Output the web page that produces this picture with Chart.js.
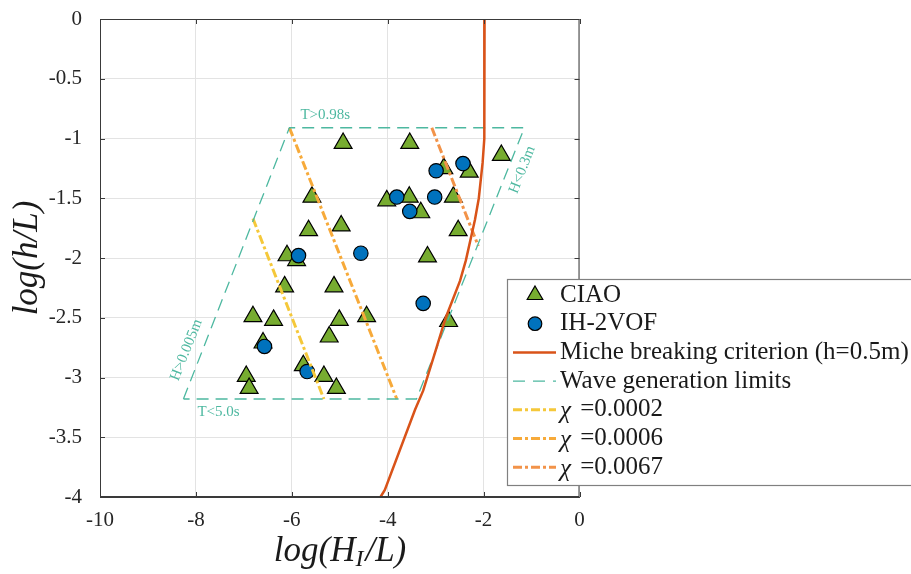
<!DOCTYPE html>
<html>
<head>
<meta charset="utf-8">
<script src="https://cdn.jsdelivr.net/npm/chart.js@4"></script>
<style>
  body { margin: 0; background: #fff; }
  canvas { display: block; }
</style>
</head>
<body>
<canvas id="myChart" width="911" height="574"></canvas>
<script>
// CIAO runs (triangles)
const ciaoX = [-4.93, -3.54, -1.63, -2.83, -2.30, -5.58, -4.02, -3.55, -2.63, -3.31,
               -4.97, -5.65, -2.53, -6.10, -5.90, -3.17, -6.15, -5.12, -6.81, -6.38,
               -5.01, -4.44, -2.73, -5.22, -6.60, -6.95, -6.89, -5.76, -5.33, -5.07];
const ciaoY = [-1.04, -1.04, -1.14, -1.25, -1.28, -1.49, -1.52, -1.49, -1.49, -1.62,
               -1.73, -1.77, -1.77, -1.98, -2.02, -1.99, -2.24, -2.24, -2.49, -2.52,
               -2.52, -2.49, -2.53, -2.66, -2.71, -2.99, -3.09, -2.90, -2.99, -3.09];

// IH-2VOF runs (circles)
const ihX = [-2.99, -2.43, -3.81, -3.02, -3.54, -5.86, -4.56, -3.26, -6.57, -5.68];
const ihY = [-1.27, -1.21, -1.49, -1.49, -1.61, -1.98, -1.96, -2.38, -2.74, -2.95];

// Miche breaking criterion, h = 0.5 m
const micheX = [-1.98, -1.98, -1.99, -2.02, -2.10, -2.18, -2.37, -2.49, -2.79, -3.02, -3.26, -3.43, -4.06, -4.15];
const micheY = [0, -0.5, -1.0, -1.2, -1.5, -1.68, -2.02, -2.19, -2.5, -2.8, -3.11, -3.27, -3.94, -4.0];

// wave generation limits (closed outline)
const limitsX = [-8.26, -6.05, -1.15, -3.40, -8.26];
const limitsY = [-3.18, -0.91, -0.91, -3.18, -3.18];

// constant chi lines
const chi1X = [-6.81, -5.33], chi1Y = [-1.67, -3.18];
const chi2X = [-6.05, -3.81], chi2Y = [-0.91, -3.18];
const chi3X = [-3.08, -2.11], chi3Y = [-0.91, -1.90];

const xTicks = [-10, -8, -6, -4, -2, 0];
const yTicks = [0, -0.5, -1, -1.5, -2, -2.5, -3, -3.5, -4];

const GREEN = '#77AC30', BLUE = '#0072BD', MICHE = '#D95319', TEAL = '#4DB8A0';
const CHI1 = '#F5C83A', CHI2 = '#F7AA3A', CHI3 = '#F29349';
const SERIF = '"Liberation Serif", "DejaVu Serif", serif';

const pts = (xs, ys) => xs.map((x, i) => ({ x: x, y: ys[i] }));

const lineSet = (data, color, width, dash) => ({
    data: data,
    showLine: true,
    borderColor: color,
    borderWidth: width,
    borderDash: dash,
    pointRadius: 0,
    fill: false,
    tension: 0,
    order: 1
});

// boxed axes, inward ticks, outline labels, legend, axis titles
const decorations = {
    id: 'decorations',
    afterDraw(chart) {
        const { ctx, chartArea: a, scales: { x, y } } = chart;
        ctx.save();

        // box and inward tick marks
        ctx.strokeStyle = '#3a3a3a';
        ctx.lineWidth = 1;
        ctx.strokeRect(a.left + 0.5, a.top + 0.5, a.right - a.left - 1, a.bottom - a.top - 1);
        ctx.beginPath();
        xTicks.forEach(v => {
            const px = Math.round(x.getPixelForValue(v)) + 0.5;
            ctx.moveTo(px, a.bottom); ctx.lineTo(px, a.bottom - 5);
            ctx.moveTo(px, a.top); ctx.lineTo(px, a.top + 5);
        });
        yTicks.forEach(v => {
            const py = Math.round(y.getPixelForValue(v)) + 0.5;
            ctx.moveTo(a.left, py); ctx.lineTo(a.left + 5, py);
            ctx.moveTo(a.right, py); ctx.lineTo(a.right - 5, py);
        });
        ctx.stroke();

        // labels on the generation limits
        const P = (i) => ({ x: x.getPixelForValue(limitsX[i]), y: y.getPixelForValue(limitsY[i]) });
        const bl = P(0), tl = P(1), tr = P(2);
        const ang = Math.atan2(tl.y - bl.y, tl.x - bl.x);
        ctx.fillStyle = TEAL;
        ctx.font = '15px ' + SERIF;
        ctx.textBaseline = 'middle';
        ctx.textAlign = 'left';
        ctx.fillText('T>0.98s', tl.x + 11, tl.y - 13);
        ctx.fillText('T<5.0s', bl.x + 14, bl.y + 13);
        ctx.textAlign = 'center';
        ctx.save();
        ctx.translate(bl.x + 3, bl.y - 49);
        ctx.rotate(ang);
        ctx.fillText('H>0.005m', 0, 0);
        ctx.restore();
        ctx.save();
        ctx.translate(tr.x - 2, tr.y + 42);
        ctx.rotate(ang);
        ctx.fillText('H<0.3m', 0, 0);
        ctx.restore();

        // legend
        const lx = 507, ly = 279, rowH = 28.7;
        ctx.fillStyle = '#fff';
        ctx.fillRect(lx, ly, 420, 206);
        ctx.strokeStyle = '#808080';
        ctx.lineWidth = 1.2;
        ctx.strokeRect(lx + 0.5, ly + 0.5, 420, 206);
        const rows = [
            { label: 'CIAO', kind: 'tri' },
            { label: 'IH-2VOF', kind: 'dot' },
            { label: 'Miche breaking criterion (h=0.5m)', kind: 'line', color: MICHE, width: 2.5, dash: [] },
            { label: 'Wave generation limits', kind: 'line', color: TEAL, width: 1.3, dash: [12, 8] },
            { label: '\u03C7 =0.0002', kind: 'line', color: CHI1, width: 3, dash: [9, 3, 3, 3] },
            { label: '\u03C7 =0.0006', kind: 'line', color: CHI2, width: 3, dash: [9, 3, 3, 3] },
            { label: '\u03C7 =0.0067', kind: 'line', color: CHI3, width: 3, dash: [9, 3, 3, 3] }
        ];
        const LF = '25px ' + SERIF;
        rows.forEach((r, i) => {
            const cy = ly + 16 + i * rowH;
            if (r.kind === 'tri') {
                const s = 9;
                ctx.beginPath();
                ctx.moveTo(535, cy - s);
                ctx.lineTo(535 + s * 0.866, cy + s * 0.5);
                ctx.lineTo(535 - s * 0.866, cy + s * 0.5);
                ctx.closePath();
                ctx.fillStyle = GREEN; ctx.fill();
                ctx.strokeStyle = '#000'; ctx.lineWidth = 1.2; ctx.setLineDash([]); ctx.stroke();
            } else if (r.kind === 'dot') {
                ctx.beginPath();
                ctx.arc(535, cy, 6.8, 0, Math.PI * 2);
                ctx.fillStyle = BLUE; ctx.fill();
                ctx.strokeStyle = '#000'; ctx.lineWidth = 1.2; ctx.setLineDash([]); ctx.stroke();
            } else {
                ctx.beginPath();
                ctx.moveTo(513, cy); ctx.lineTo(556, cy);
                ctx.strokeStyle = r.color; ctx.lineWidth = r.width; ctx.setLineDash(r.dash);
                ctx.stroke();
                ctx.setLineDash([]);
            }
            ctx.fillStyle = '#1a1a1a';
            ctx.font = LF;
            ctx.textAlign = 'left';
            ctx.textBaseline = 'middle';
            if (r.label.startsWith('\u03C7')) {
                ctx.font = 'italic ' + LF;
                ctx.fillText('\u03C7', 560, cy + 2);
                ctx.font = LF;
                ctx.fillText(r.label.slice(1), 574, cy);
            } else {
                ctx.fillText(r.label, 560, cy);
            }
        });

        // axis titles
        ctx.fillStyle = '#1a1a1a';
        ctx.font = 'italic 35px ' + SERIF;
        ctx.textBaseline = 'middle';
        ctx.textAlign = 'center';
        ctx.save();
        ctx.translate(28, 258);
        ctx.rotate(-Math.PI / 2);
        ctx.fillText('log(h/L)', 0, 0);
        ctx.restore();

        const partA = 'log(H', partB = 'I', partC = '/L)';
        ctx.font = 'italic 35px ' + SERIF;
        const wA = ctx.measureText(partA).width, wC = ctx.measureText(partC).width;
        ctx.font = 'italic 24px ' + SERIF;
        const wB = ctx.measureText(partB).width + 2;
        let sx = 340 - (wA + wB + wC) / 2;
        const sy = 552;
        ctx.textAlign = 'left';
        ctx.font = 'italic 35px ' + SERIF;
        ctx.fillText(partA, sx, sy); sx += wA;
        ctx.font = 'italic 24px ' + SERIF;
        ctx.fillText(partB, sx, sy + 8); sx += wB;
        ctx.font = 'italic 35px ' + SERIF;
        ctx.fillText(partC, sx, sy);

        ctx.restore();
    }
};

const ctx = document.getElementById('myChart').getContext('2d');

new Chart(ctx, {
    type: 'scatter',
    data: {
        datasets: [
            lineSet(pts(micheX, micheY), MICHE, 2.5, []),
            lineSet(pts(limitsX, limitsY), TEAL, 1.3, [12, 7]),
            lineSet(pts(chi1X, chi1Y), CHI1, 3, [9, 3, 3, 3]),
            lineSet(pts(chi2X, chi2Y), CHI2, 3, [9, 3, 3, 3]),
            lineSet(pts(chi3X, chi3Y), CHI3, 3, [9, 3, 3, 3]),
            {
                label: 'CIAO',
                data: pts(ciaoX, ciaoY),
                pointStyle: 'triangle',
                pointRadius: 10.3,
                backgroundColor: GREEN,
                borderColor: '#000',
                borderWidth: 1.2,
                order: 3
            },
            {
                label: 'IH-2VOF',
                data: pts(ihX, ihY),
                pointStyle: 'circle',
                pointRadius: 7.2,
                backgroundColor: BLUE,
                borderColor: '#000',
                borderWidth: 1.2,
                order: 2
            }
        ]
    },
    options: {
        responsive: false,
        animation: false,
        devicePixelRatio: 1,
        layout: { padding: { top: 19, right: 331.5, left: 0, bottom: 0 } },
        scales: {
            x: {
                type: 'linear',
                min: -10,
                max: 0,
                afterFit: s => { s.height = 77; s.paddingLeft = 0; s.paddingRight = 0; },
                afterBuildTicks: s => { s.ticks = xTicks.map(v => ({ value: v })); },
                ticks: {
                    color: '#262626',
                    padding: 11,
                    font: { family: SERIF, size: 21 },
                    callback: v => String(v)
                },
                grid: { color: '#e3e3e3', drawTicks: false },
                border: { color: '#3a3a3a' }
            },
            y: {
                type: 'linear',
                min: -4,
                max: 0,
                afterFit: s => { s.width = 100; s.paddingTop = 0; s.paddingBottom = 0; },
                afterBuildTicks: s => { s.ticks = yTicks.map(v => ({ value: v })); },
                ticks: {
                    color: '#262626',
                    padding: 18,
                    font: { family: SERIF, size: 21 },
                    callback: v => String(v)
                },
                grid: { color: '#e3e3e3', drawTicks: false },
                border: { color: '#3a3a3a' }
            }
        },
        plugins: {
            legend: { display: false },
            tooltip: { enabled: false }
        }
    },
    plugins: [decorations]
});
</script>
</body>
</html>
